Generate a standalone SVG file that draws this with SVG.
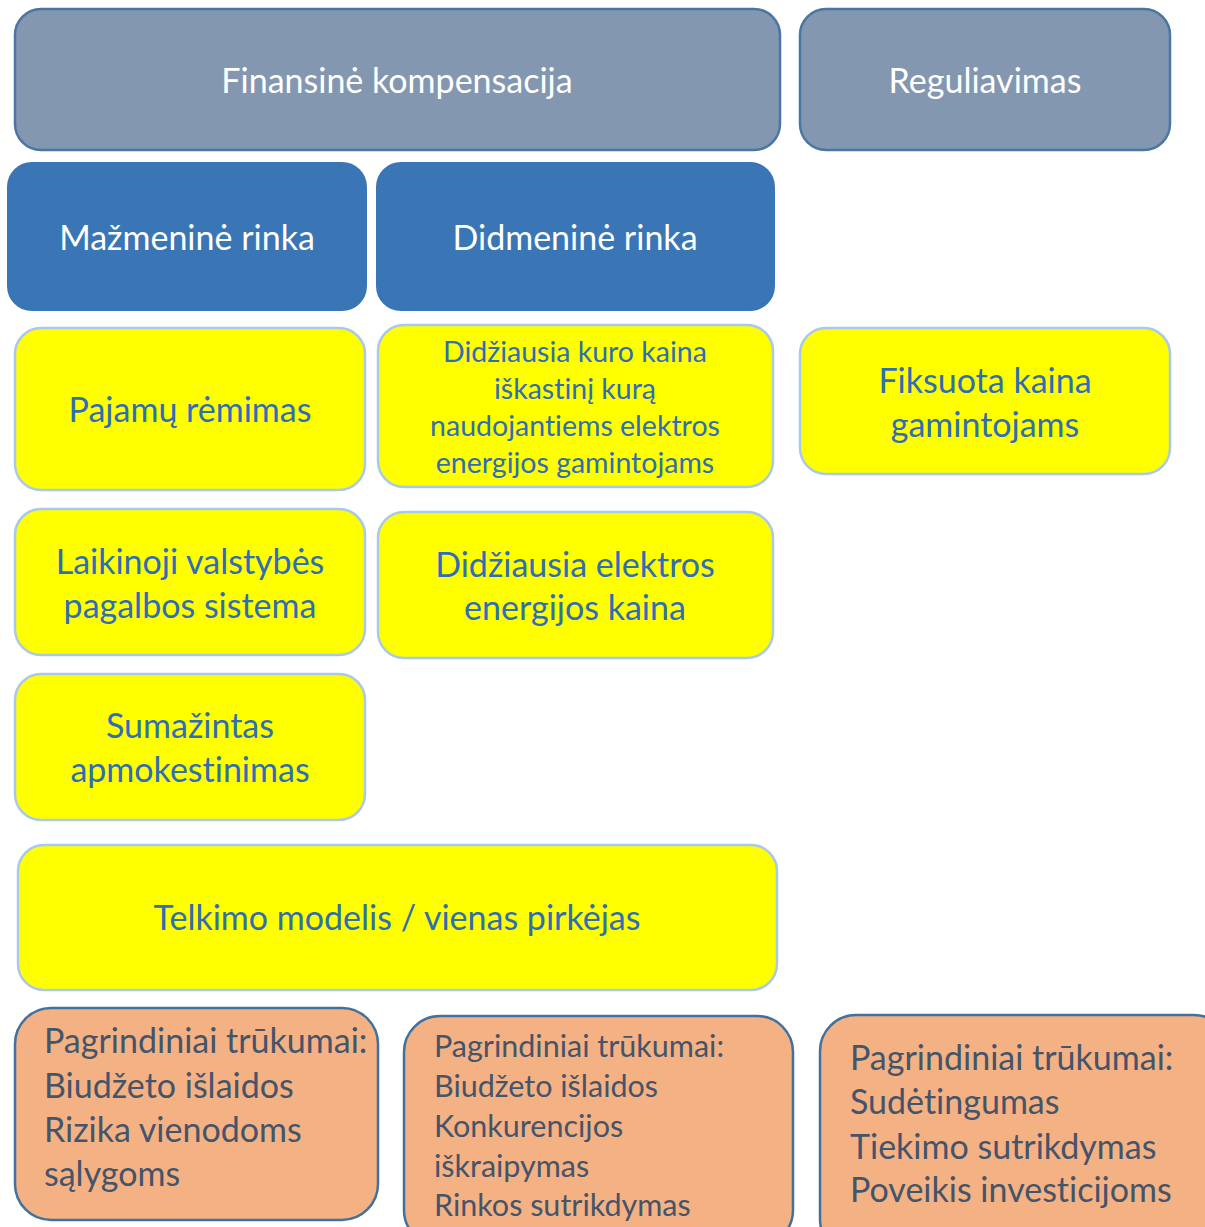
<svg xmlns="http://www.w3.org/2000/svg" width="1205" height="1227" viewBox="0 0 1205 1227">
<style>
.hdr{fill:#8497B0;stroke:#4A76A3;stroke-width:2.5}
.mkt{fill:#3A75B5;stroke:#3A75B5;stroke-width:2}
.ylw{fill:#FFFF00;stroke:#A9C8EA;stroke-width:2.5}
.org{fill:#F4B183;stroke:#41719C;stroke-width:2.5}
text{font-family:Lato,"Open Sans","Noto Sans",sans-serif;font-variant-ligatures:none}
.wt{fill:#FFFFFF;font-size:34px;text-anchor:middle}
.bt{fill:#2F6DB5;font-size:34px;text-anchor:middle}
.bs{fill:#2F6DB5;font-size:28.5px;text-anchor:middle}
.dk{fill:#44546A;font-size:34px}
.dks{fill:#44546A;font-size:30.5px}
</style>
<rect width="1205" height="1227" fill="#FFFFFF"/>
<g id="connectors"></g>
<g id="n-finansine"><rect class="hdr" x="15" y="9" width="765" height="141" rx="26"/><text class="wt" x="397" y="93">Finansinė kompensacija</text></g>
<g id="n-reguliavimas"><rect class="hdr" x="800" y="9" width="370" height="141" rx="26"/><text class="wt" x="985" y="93">Reguliavimas</text></g>
<g id="n-mazmenine"><rect class="mkt" x="8" y="163" width="358" height="147" rx="24"/><text class="wt" x="187" y="250">Mažmeninė rinka</text></g>
<g id="n-didmenine"><rect class="mkt" x="377" y="163" width="397" height="147" rx="24"/><text class="wt" x="575" y="250">Didmeninė rinka</text></g>
<g id="n-pajamu"><rect class="ylw" x="15" y="328" width="350" height="162" rx="26"/><text class="bt" x="190" y="422">Pajamų rėmimas</text></g>
<g id="n-kuro"><rect class="ylw" x="378" y="325" width="395" height="162" rx="26"/><text class="bs" x="575" y="362">Didžiausia kuro kaina</text><text class="bs" x="575" y="399">iškastinį kurą</text><text class="bs" x="575" y="436">naudojantiems elektros</text><text class="bs" x="575" y="473">energijos gamintojams</text></g>
<g id="n-fiksuota"><rect class="ylw" x="800" y="328" width="370" height="146" rx="26"/><text class="bt" x="985" y="393">Fiksuota kaina</text><text class="bt" x="985" y="437">gamintojams</text></g>
<g id="n-laikinoji"><rect class="ylw" x="15" y="509" width="350" height="146" rx="26"/><text class="bt" x="190" y="574">Laikinoji valstybės</text><text class="bt" x="190" y="618">pagalbos sistema</text></g>
<g id="n-elektros"><rect class="ylw" x="378" y="512" width="395" height="146" rx="26"/><text class="bt" x="575" y="577">Didžiausia elektros</text><text class="bt" x="575" y="620">energijos kaina</text></g>
<g id="n-sumazintas"><rect class="ylw" x="15" y="674" width="350" height="146" rx="26"/><text class="bt" x="190" y="738">Sumažintas</text><text class="bt" x="190" y="782">apmokestinimas</text></g>
<g id="n-telkimo"><rect class="ylw" x="18" y="845" width="759" height="145" rx="26"/><text class="bt" x="397" y="930">Telkimo modelis / vienas pirkėjas</text></g>
<g id="n-trukumai1"><rect class="org" x="15" y="1008" width="363" height="212" rx="36"/><text class="dk" x="44" y="1053">Pagrindiniai trūkumai:</text><text class="dk" x="44" y="1098">Biudžeto išlaidos</text><text class="dk" x="44" y="1142">Rizika vienodoms</text><text class="dk" x="44" y="1186">sąlygoms</text></g>
<g id="n-trukumai2"><rect class="org" x="404" y="1016" width="389" height="230" rx="36"/><text class="dks" x="434" y="1057">Pagrindiniai trūkumai:</text><text class="dks" x="434" y="1097">Biudžeto išlaidos</text><text class="dks" x="434" y="1137">Konkurencijos</text><text class="dks" x="434" y="1177">iškraipymas</text><text class="dks" x="434" y="1216">Rinkos sutrikdymas</text></g>
<g id="n-trukumai3"><rect class="org" x="820" y="1015" width="410" height="240" rx="36"/><text class="dk" x="850" y="1070">Pagrindiniai trūkumai:</text><text class="dk" x="850" y="1114">Sudėtingumas</text><text class="dk" x="850" y="1159">Tiekimo sutrikdymas</text><text class="dk" x="850" y="1202">Poveikis investicijoms</text></g>
</svg>
